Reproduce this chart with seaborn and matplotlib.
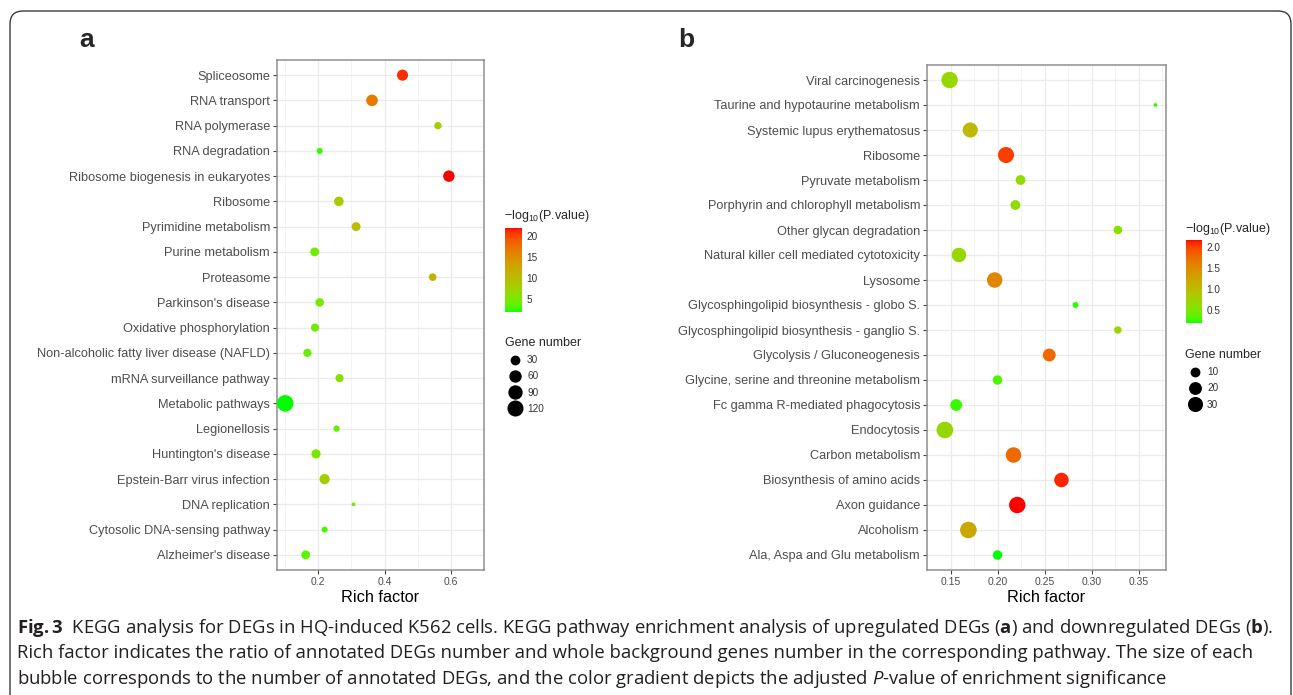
import numpy as np
import pandas as pd
import seaborn as sns
import matplotlib
matplotlib.use("Agg")
import matplotlib.pyplot as plt
from matplotlib.colors import ListedColormap, Normalize
from matplotlib.cm import ScalarMappable
from matplotlib.patches import FancyBboxPatch
from matplotlib.lines import Line2D
from matplotlib.transforms import IdentityTransform

# ---- data: panel a (upregulated DEGs) ----
paths_a = ["Spliceosome", "RNA transport", "RNA polymerase", "RNA degradation",
           "Ribosome biogenesis in eukaryotes", "Ribosome", "Pyrimidine metabolism",
           "Purine metabolism", "Proteasome", "Parkinson's disease",
           "Oxidative phosphorylation", "Non-alcoholic fatty liver disease (NAFLD)",
           "mRNA surveillance pathway", "Metabolic pathways", "Legionellosis",
           "Huntington's disease", "Epstein-Barr virus infection", "DNA replication",
           "Cytosolic DNA-sensing pathway", "Alzheimer's disease"]
rich_a = [0.454, 0.362, 0.561, 0.204, 0.594, 0.262, 0.314, 0.189, 0.545, 0.204,
          0.190, 0.167, 0.264, 0.100, 0.255, 0.193, 0.219, 0.306, 0.219, 0.162]
logp_a = [21.0, 16.5, 8.0, 2.6, 21.8, 8.5, 10.0, 4.4, 11.0, 5.0,
          4.4, 4.0, 6.0, 2.0, 4.0, 5.0, 8.0, 4.4, 3.0, 3.6]
genes_a = [44, 50, 12, 6, 48, 28, 23, 22, 14, 20,
           17, 17, 17, 131, 7, 25, 35, 2, 6, 22]
cbar_ticks_a = [5, 10, 15, 20]
size_breaks_a = [30, 60, 90, 120]
xticks_a = [0.2, 0.4, 0.6]

# ---- data: panel b (downregulated DEGs) ----
paths_b = ["Viral carcinogenesis", "Taurine and hypotaurine metabolism",
           "Systemic lupus erythematosus", "Ribosome", "Pyruvate metabolism",
           "Porphyrin and chlorophyll metabolism", "Other glycan degradation",
           "Natural killer cell mediated cytotoxicity", "Lysosome",
           "Glycosphingolipid biosynthesis - globo S.",
           "Glycosphingolipid biosynthesis - ganglio S.",
           "Glycolysis / Gluconeogenesis", "Glycine, serine and threonine metabolism",
           "Fc gamma R-mediated phagocytosis", "Endocytosis", "Carbon metabolism",
           "Biosynthesis of amino acids", "Axon guidance", "Alcoholism",
           "Ala, Aspa and Glu metabolism"]
rich_b = [0.149, 0.368, 0.171, 0.209, 0.2245, 0.219, 0.328, 0.159, 0.197, 0.283,
          0.328, 0.255, 0.200, 0.156, 0.144, 0.217, 0.268, 0.221, 0.169, 0.200]
logp_b = [0.68, 0.23, 1.02, 2.02, 0.62, 0.62, 0.58, 0.68, 1.53, 0.23,
          0.68, 1.77, 0.29, 0.25, 0.68, 1.77, 2.10, 2.16, 1.21, 0.19]
genes_b = [37, 2, 30, 35, 10, 10, 7, 27, 32, 3,
           5, 20, 9, 16, 38, 32, 27, 37, 38, 9]
cbar_ticks_b = [0.5, 1.0, 1.5, 2.0]
size_breaks_b = [10, 20, 30]
xticks_b = [0.15, 0.20, 0.25, 0.30, 0.35]

W, H = 1293, 695

sns.set_theme(style="whitegrid")
plt.rcParams["font.family"] = ["Liberation Sans", "DejaVu Sans"]
plt.rcParams["mathtext.fontset"] = "custom"
plt.rcParams["mathtext.rm"] = "Liberation Sans"
plt.rcParams["mathtext.bf"] = "Open Sans:bold"
plt.rcParams["mathtext.it"] = "Open Sans:italic"


# green -> red gradient interpolated in Lab (like ggplot's scale_colour_gradient)
M = np.array([[0.4124, 0.3576, 0.1805], [0.2126, 0.7152, 0.0722], [0.0193, 0.1192, 0.9505]])
WHITE = np.array([0.95047, 1.0, 1.08883])


def srgb_to_lab(c):
    c = np.asarray(c, float)
    lin = np.where(c <= 0.04045, c / 12.92, ((c + 0.055) / 1.055) ** 2.4)
    xyz = M @ lin / WHITE
    f = np.where(xyz > (6 / 29) ** 3, np.cbrt(xyz), xyz / (3 * (6 / 29) ** 2) + 4 / 29)
    return np.array([116 * f[1] - 16, 500 * (f[0] - f[1]), 200 * (f[1] - f[2])])


def lab_to_srgb(lab):
    L, a, b = lab
    fy = (L + 16) / 116
    f = np.array([fy + a / 500, fy, fy - b / 200])
    xyz = np.where(f > 6 / 29, f ** 3, 3 * (6 / 29) ** 2 * (f - 4 / 29)) * WHITE
    lin = np.clip(np.linalg.inv(M) @ xyz, 0, 1)
    return np.where(lin <= 0.0031308, 12.92 * lin, 1.055 * lin ** (1 / 2.4) - 0.055)


lab0, lab1 = srgb_to_lab([0, 1, 0]), srgb_to_lab([1, 0, 0])
cmap = ListedColormap([np.clip(lab_to_srgb(lab0 + t * (lab1 - lab0)), 0, 1)
                       for t in np.linspace(0, 1, 256)])


def bubble_area(n, nmin, nmax):
    # ggplot-like scale_size: diameter grows with sqrt of rescaled value
    r = max(0.0, (n - nmin) / (nmax - nmin))
    d_px = 3.8 + 12.8 * np.sqrt(r)
    return (d_px * 0.72) ** 2


def px_box(l, t, r, b):
    return [l / W, 1 - b / H, (r - l) / W, (b - t) / H]


def bubble_panel(ax, paths, rich, logp, genes, xticks, fmt):
    df = pd.DataFrame({"path": paths, "rich": rich, "logp": logp, "genes": genes})
    nmin, nmax = min(genes), max(genes)
    sizes = {g: bubble_area(g, nmin, nmax) for g in df["genes"].unique()}
    sns.scatterplot(data=df, x="rich", y="path", hue="logp", size="genes",
                    palette=cmap, hue_norm=(min(logp), max(logp)), sizes=sizes,
                    linewidth=0, edgecolor="none", legend=False, ax=ax, zorder=3)
    lo, hi = min(rich), max(rich)
    span = hi - lo
    ax.set_xlim(lo - 0.05 * span, hi + 0.05 * span)
    ax.set_ylim(len(paths) - 0.4, -0.6)
    ax.set_xticks(xticks)
    step = xticks[1] - xticks[0]
    ax.set_xticks([v - step / 2 for v in xticks] + [xticks[-1] + step / 2], minor=True)
    ax.set_xticklabels([fmt % v for v in xticks])
    ax.grid(which="major", color="#EBEBEB", lw=0.9)
    ax.grid(which="minor", axis="x", color="#F3F3F3", lw=0.6)
    ax.set_axisbelow(True)
    for s in ax.spines.values():
        s.set_color("#8F8F8F")
        s.set_linewidth(1.1)
    ax.tick_params(axis="both", which="major", left=True, bottom=True, length=3,
                   width=0.8, color="#444444", labelcolor="#4D4D4D", pad=2)
    ax.tick_params(axis="y", labelsize=9.2)
    ax.tick_params(axis="x", labelsize=7.5)
    ax.tick_params(which="minor", length=0)
    ax.set_xlabel("Rich factor", fontsize=11.7, labelpad=2, color="black")
    ax.set_ylabel("")
    return nmin, nmax


def legends(fig, logp, cbox, cticks, fmt, title_xy, breaks, nmin, nmax, size_xy):
    cax = fig.add_axes(px_box(*cbox))
    sm = ScalarMappable(norm=Normalize(min(logp), max(logp)), cmap=cmap)
    cb = fig.colorbar(sm, cax=cax, ticks=cticks, format=fmt)
    cb.outline.set_visible(False)
    cax.tick_params(which="both", direction="in", length=3, width=0.8, color="white",
                    left=True, right=True, labelsize=7.2, labelcolor="#333333", pad=3)
    cax.minorticks_off()
    fig.text(title_xy[0] / W, 1 - title_xy[1] / H, "\u2212log$_{10}$(P.value)",
             fontsize=9, va="center", ha="left")
    handles = [Line2D([], [], marker="o", ls="", color="black", markeredgewidth=0,
                      markersize=np.sqrt(bubble_area(b, nmin, nmax))) for b in breaks]
    leg = fig.legend(handles, [str(b) for b in breaks], title="Gene number",
                     loc="upper left", bbox_to_anchor=(size_xy[0] / W, 1 - size_xy[1] / H),
                     frameon=False, fontsize=7.2, title_fontsize=9, alignment="left",
                     borderpad=0, borderaxespad=0, handlelength=2.0, handletextpad=0.2,
                     labelspacing=0.62)
    for t in leg.get_texts():
        t.set_color("#333333")


fig = plt.figure(figsize=(W / 100, H / 100), dpi=100)

ax_a = fig.add_axes(px_box(277, 60, 484, 570))
na = bubble_panel(ax_a, paths_a, rich_a, logp_a, genes_a, xticks_a, "%.1f")
legends(fig, logp_a, (505, 228, 522, 312), cbar_ticks_a, "%d", (504, 216),
        size_breaks_a, *na, (505, 337))

ax_b = fig.add_axes(px_box(927, 65, 1166, 570))
nb = bubble_panel(ax_b, paths_b, rich_b, logp_b, genes_b, xticks_b, "%.2f")
legends(fig, logp_b, (1186, 240, 1202, 323), cbar_ticks_b, "%.1f", (1185, 229),
        size_breaks_b, *nb, (1185, 349))

fig.text(87 / W, 1 - 40 / H, "a", fontsize=19, fontweight="bold", ha="center", va="center")
fig.text(686 / W, 1 - 40 / H, "b", fontsize=19, fontweight="bold", ha="center", va="center")

# caption
cap = [r"$\mathbf{Fig.3}$  KEGG analysis for DEGs in HQ-induced K562 cells. KEGG pathway "
       r"enrichment analysis of upregulated DEGs ($\mathbf{a}$) and downregulated DEGs ($\mathbf{b}$).",
       "Rich factor indicates the ratio of annotated DEGs number and whole background genes "
       "number in the corresponding pathway. The size of each",
       r"bubble corresponds to the number of annotated DEGs, and the color gradient depicts "
       r"the adjusted $\mathit{P}$-value of enrichment significance"]
for i, line in enumerate(cap):
    fig.text(17 / W, 1 - (633 + 25.5 * i) / H, line, family="Open Sans", fontsize=13.3,
             color="#231F20", va="baseline", ha="left")

# rounded frame, open at the bottom
frame = FancyBboxPatch((10, -40), 1281, 695 - 11 + 40, boxstyle="round,pad=0,rounding_size=13",
                       transform=IdentityTransform(), fill=False, ec="#3A3A3A", lw=1.0)
fig.patches.append(frame)

fig.savefig("out.png", dpi=100)
